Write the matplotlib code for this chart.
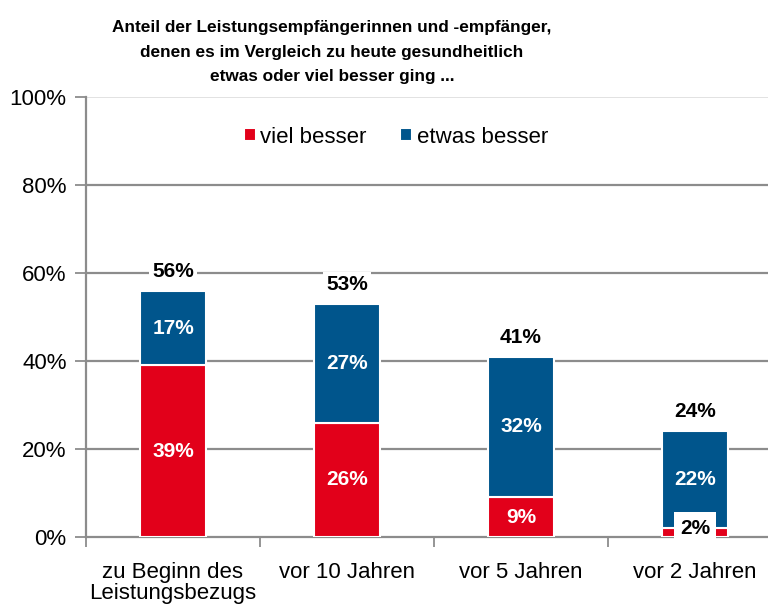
import matplotlib
matplotlib.use('Agg')
import matplotlib.pyplot as plt
import numpy as np

plt.rcParams['font.family'] = ['Liberation Sans', 'DejaVu Sans']

categories = ['zu Beginn des\nLeistungsbezugs', 'vor 10 Jahren', 'vor 5 Jahren', 'vor 2 Jahren']
viel_besser = [39, 26, 9, 2]
etwas_besser = [17, 27, 32, 22]
totals = [56, 53, 41, 24]

red = '#e2001a'
blue = '#00558c'
grid_col = '#8c8c8c'

fig = plt.figure(figsize=(7.68, 6.05), dpi=100)
ax = fig.add_axes([86 / 768, 68 / 605, 696 / 768, 440 / 605])

x = np.arange(len(categories))
w = 0.38
b1 = ax.bar(x, viel_besser, w, color=red, edgecolor='white', linewidth=1.5, label='viel besser', zorder=3)
b2 = ax.bar(x, etwas_besser, w, bottom=viel_besser, color=blue, edgecolor='white', linewidth=1.5,
            label='etwas besser', zorder=3)

ax.set_xlim(-0.5, len(categories) - 0.5)
ax.set_ylim(0, 100)
ax.set_yticks(range(0, 101, 20))
ax.set_yticklabels([f'{v}%' for v in range(0, 101, 20)], fontsize=16)
for v in range(20, 100, 20):
    ax.axhline(v, color=grid_col, lw=1.6, zorder=1)
ax.axhline(100, color='#dddddd', lw=1.2, zorder=1)

ax.set_xticks(x)
ax.set_xticklabels(categories, fontsize=16, linespacing=1.0)
ax.set_xticks(np.arange(len(categories) + 1) - 0.5, minor=True)
ax.tick_params(axis='x', which='major', length=0, pad=18)
ax.tick_params(axis='x', which='minor', length=7, color=grid_col, width=1.3, direction='out')
ax.tick_params(axis='y', length=8, color=grid_col, width=1.3, direction='out', pad=6)

for s in ['top', 'right']:
    ax.spines[s].set_visible(False)
for s in ['left', 'bottom']:
    ax.spines[s].set_color(grid_col)
    ax.spines[s].set_linewidth(1.6)

# segment labels
for i in range(len(categories)):
    if viel_besser[i] >= 5:
        ax.text(x[i], viel_besser[i] / 2, f'{viel_besser[i]}%', ha='center', va='center',
                color='white', fontsize=15, fontweight='bold', zorder=5)
    else:
        ax.text(x[i], viel_besser[i] / 2 + 1.0, f'{viel_besser[i]}%', ha='center', va='center',
                color='black', fontsize=15, fontweight='bold', zorder=5,
                bbox=dict(boxstyle='square,pad=0.3', fc='white', ec='none'))
    ax.text(x[i], viel_besser[i] + etwas_besser[i] / 2, f'{etwas_besser[i]}%', ha='center', va='center',
            color='white', fontsize=15, fontweight='bold', zorder=5)
    ax.annotate(f'{totals[i]}%', (x[i], viel_besser[i] + etwas_besser[i]), xytext=(0, 14),
                textcoords='offset points', ha='center', va='center', fontsize=15, fontweight='bold',
                zorder=5, bbox=dict(boxstyle='square,pad=0.15', fc='white', ec='none'))

leg = ax.legend(loc='center', bbox_to_anchor=(0.445, 0.909), ncol=2, frameon=False, fontsize=16,
                handlelength=0.55, handleheight=0.55, handletextpad=0.2, columnspacing=1.5)

fig.text(0.432, 1 - 20 / 605, 'Anteil der Leistungsempfängerinnen und -empfänger,\n'
         'denen es im Vergleich zu heute gesundheitlich\netwas oder viel besser ging ...',
         ha='center', va='top', fontsize=12.4, fontweight='bold', linespacing=1.8)

fig.savefig('out.png', dpi=100)
